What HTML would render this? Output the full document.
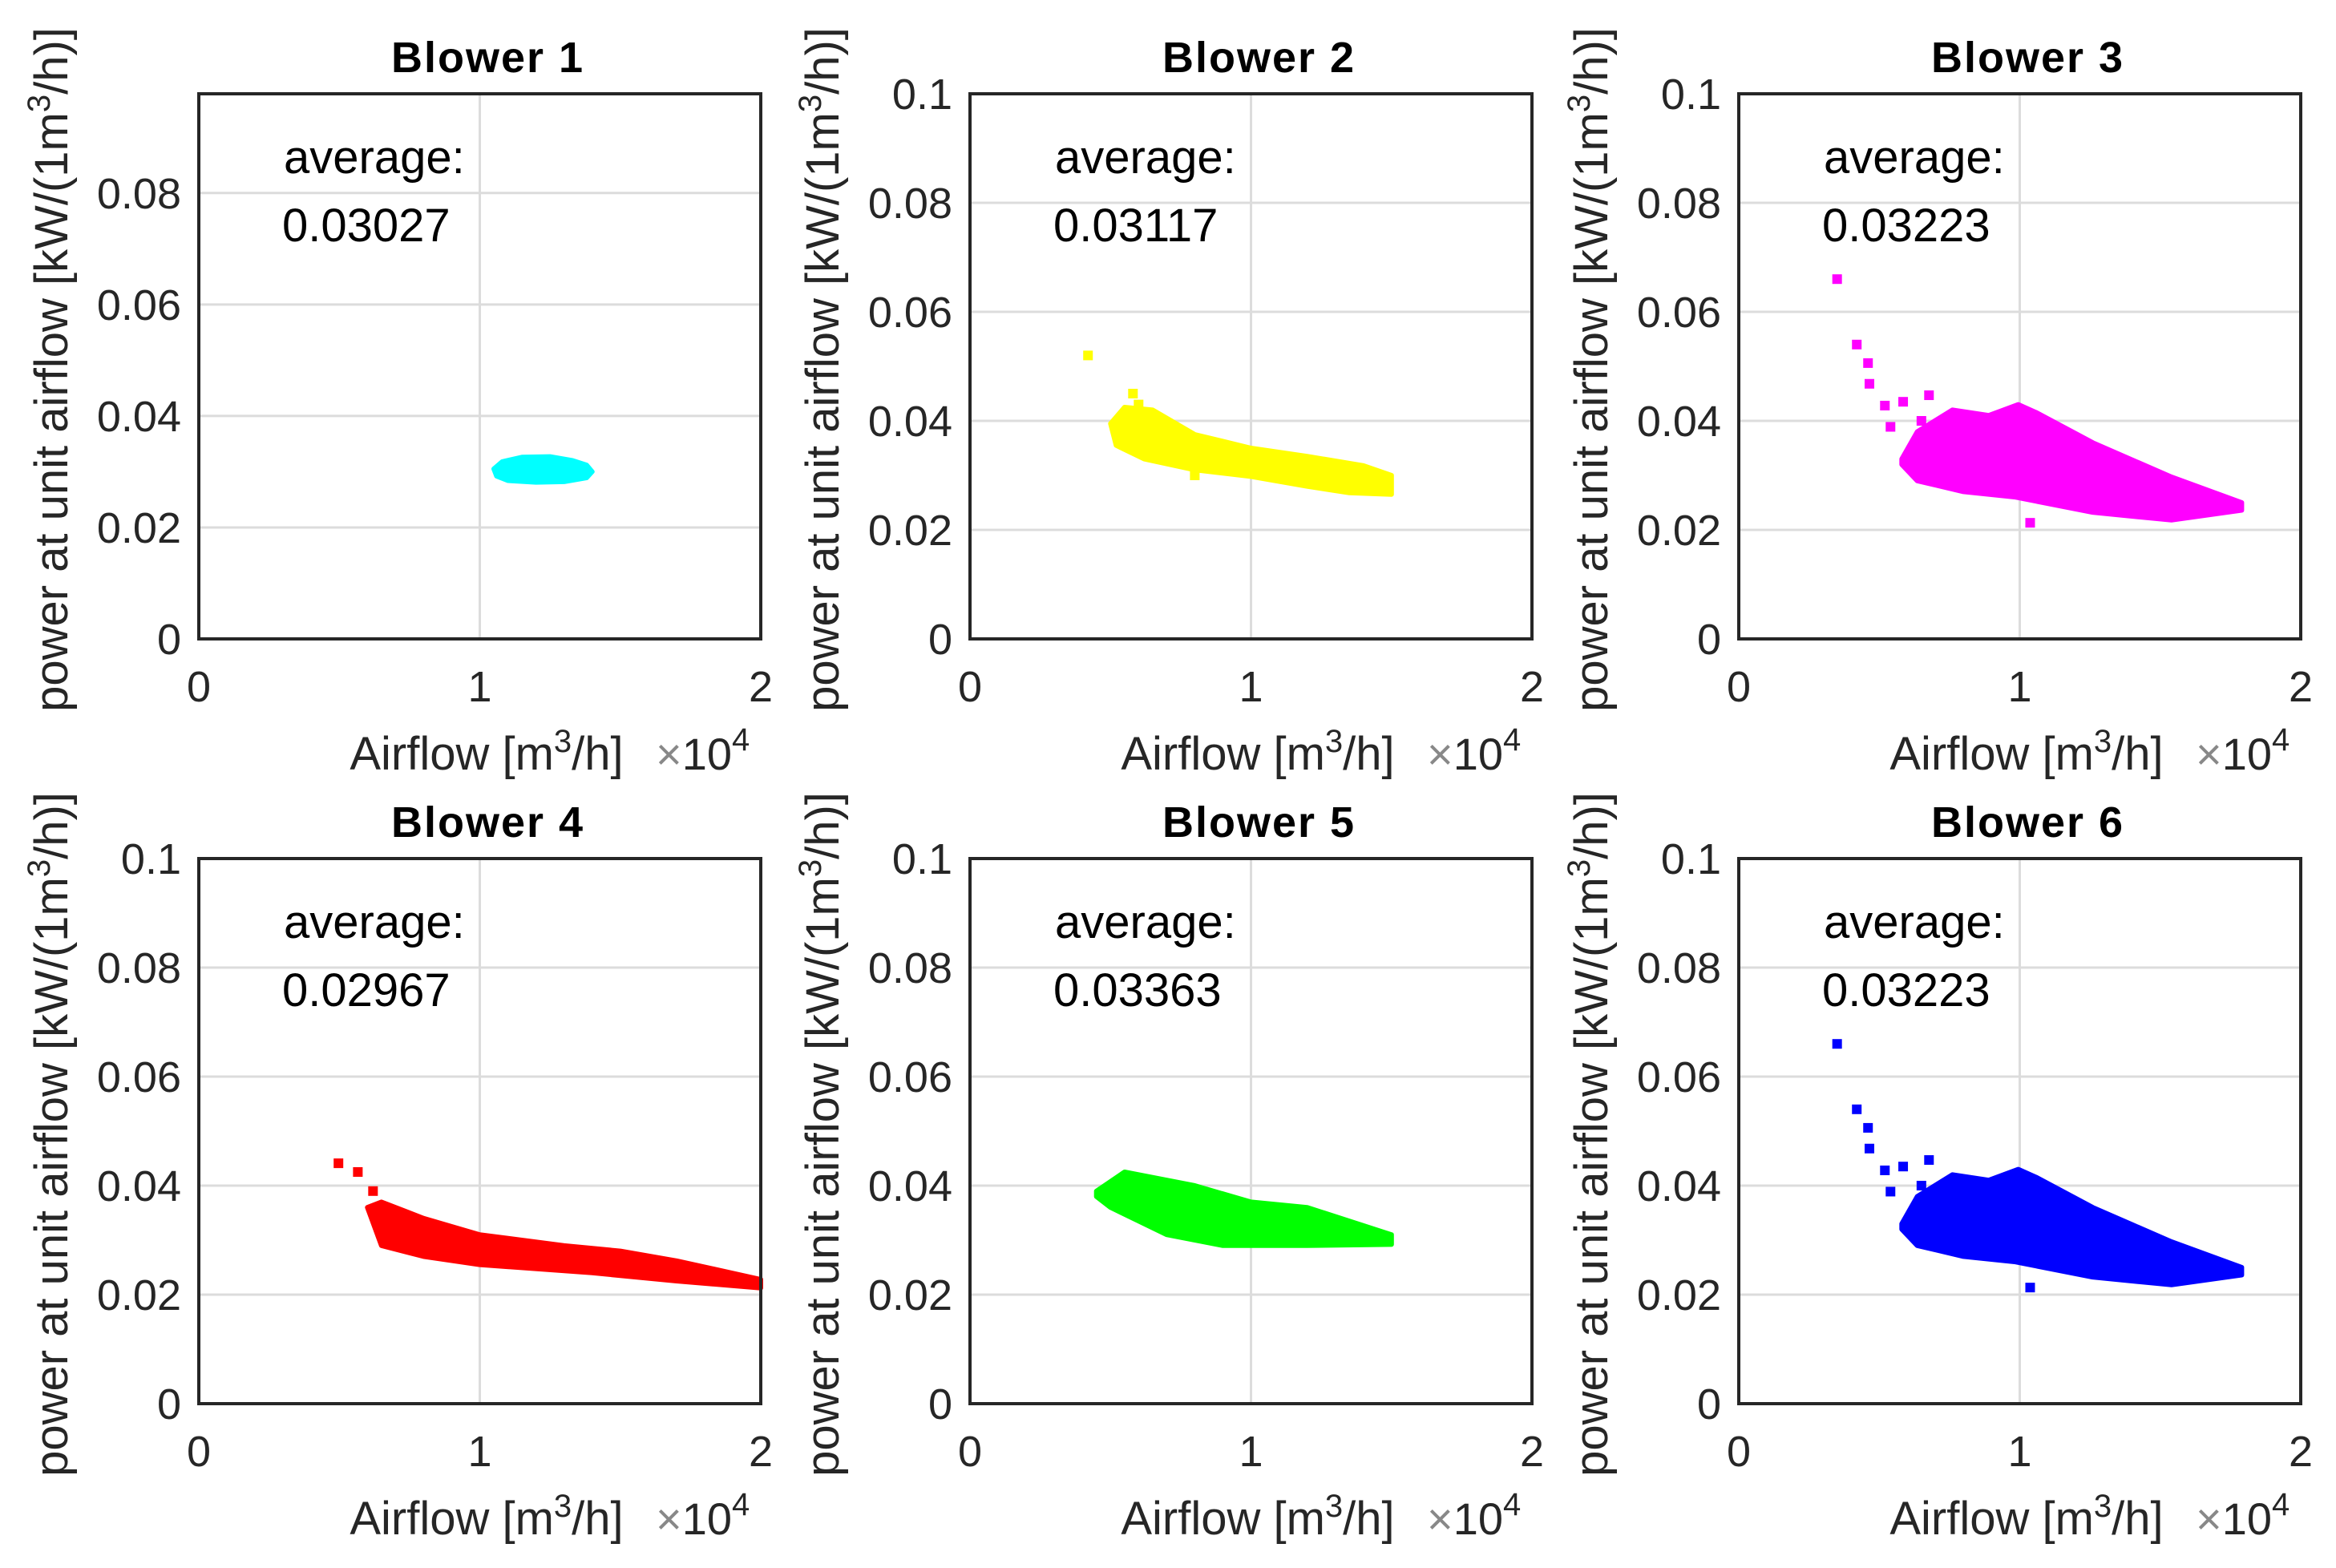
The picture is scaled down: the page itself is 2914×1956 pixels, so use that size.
<!DOCTYPE html>
<html><head><meta charset="utf-8">
<style>
html,body{margin:0;padding:0;background:#fff;}
svg{display:block;font-family:"Liberation Sans",Arial,sans-serif;}
</style></head>
<body>
<svg id="fig" width="2914" height="1956" viewBox="0 0 2914 1956" xmlns="http://www.w3.org/2000/svg"></svg>
<script>
// ---- data (airflow in 1e4 m3/h, power kW/(m3/h)) ----
const blowerTitles = ["Blower 1","Blower 2","Blower 3","Blower 4","Blower 5","Blower 6"];
const averages = ["0.03027","0.03117","0.03223","0.02967","0.03363","0.03223"];
const colors = ["#00ffff","#ffff00","#ff00ff","#ff0000","#00ff00","#0000ff"];
const xTicks = [0,1,2];
const yTicksA = [0,0.02,0.04,0.06,0.08];
const yTicksB = [0,0.02,0.04,0.06,0.08,0.1];
const yMax = [0.0978,0.1,0.1,0.1,0.1,0.1];

const b1X = [1.05,1.08,1.15,1.25,1.33,1.38,1.40,1.38,1.30,1.20,1.10,1.06];
const b1Y = [0.0305,0.0318,0.0326,0.0327,0.0320,0.0312,0.0300,0.0289,0.0282,0.0281,0.0284,0.0292];
const b2X = [0.50,0.55,0.65,0.80,1.00,1.20,1.40,1.50,1.50,1.35,1.20,1.00,0.80,0.62,0.52];
const b2Y = [0.0395,0.0425,0.0420,0.0375,0.0350,0.0335,0.0318,0.0300,0.0265,0.0268,0.0280,0.0298,0.0310,0.0330,0.0355];
const b36X = [0.58,0.635,0.76,0.89,0.995,1.06,1.26,1.54,1.79,1.79,1.54,1.26,0.985,0.80,0.635,0.58];
const b36Y = [0.0330,0.0380,0.0420,0.0410,0.0430,0.0415,0.0360,0.0297,0.0250,0.0236,0.0218,0.0232,0.0260,0.0270,0.0290,0.0320];
const b4X = [0.60,0.65,0.80,1.00,1.30,1.50,1.70,2.00,2.00,1.70,1.40,1.00,0.80,0.65];
const b4Y = [0.0360,0.0370,0.0340,0.0310,0.0290,0.0280,0.0262,0.0228,0.0212,0.0225,0.0240,0.0255,0.0270,0.0290];
const b5X = [0.45,0.55,0.80,1.00,1.20,1.50,1.50,1.20,0.90,0.70,0.50,0.45];
const b5Y = [0.0390,0.0425,0.0400,0.0370,0.0360,0.0310,0.0292,0.0290,0.0290,0.0310,0.0360,0.0380];
const outB2X = [0.42,0.58,0.60,0.80];
const outB2Y = [0.052,0.045,0.043,0.030];
const outB36X = [0.35,0.42,0.46,0.465,0.52,0.585,0.677,0.54,0.65,1.037];
const outB36Y = [0.066,0.054,0.0506,0.0468,0.0428,0.0435,0.0447,0.0389,0.040,0.0213];
const outB4X = [0.497,0.566,0.62];
const outB4Y = [0.0441,0.0425,0.039];
const outB5X = [];
const outB5Y = [];
const outB1X = [];
const outB1Y = [];

const blobX = [b1X,b2X,b36X,b4X,b5X,b36X];
const blobY = [b1Y,b2Y,b36Y,b4Y,b5Y,b36Y];
const outX = [outB1X,outB2X,outB36X,outB4X,outB5X,outB36X];
const outY = [outB1Y,outB2Y,outB36Y,outB4Y,outB5Y,outB36Y];

// ---- layout ----
const NS = "http://www.w3.org/2000/svg";
const svg = document.getElementById('fig');
const colL = [248,1210,2169];
const rowT = [117,1071];
const PW = 701, PH = 680;
const FS = 54;

function mk(tag, attrs, parent){
  const e = document.createElementNS(NS, tag);
  for (const k in attrs) e.setAttribute(k, attrs[k]);
  (parent||svg).appendChild(e);
  return e;
}

for (let i=0;i<6;i++){
  const L = colL[i%3], T = rowT[Math.floor(i/3)], B = T+PH, R = L+PW;
  const ym = yMax[i];
  const sx = v => L + v/2*PW;
  const sy = v => B - v/ym*PH;
  const g = mk('g',{});
  
  
  const yt = i===0 ? yTicksA : yTicksB;
  yt.forEach(v=>{ if(v>0){ const l=mk('line',{x1:L,x2:R,y1:sy(v),y2:sy(v),stroke:'#dcdcdc','stroke-width':3},g);
      }});
  xTicks.forEach(v=>{ if(v>0&&v<2){ const l=mk('line',{x1:sx(v),x2:sx(v),y1:T,y2:B,stroke:'#dcdcdc','stroke-width':3},g);
      }});
  const pts = blobX[i].map((x,k)=>sx(x).toFixed(1)+','+sy(blobY[i][k]).toFixed(1)).join(' ');
  const poly = mk('polygon',{points:pts,fill:colors[i],stroke:colors[i],'stroke-width':6,'stroke-linejoin':'round'},g);
  
  
  outX[i].forEach((x,k)=>{
    const r = mk('rect',{x:sx(x)-6,y:sy(outY[i][k])-6,width:12,height:12,fill:colors[i]},g);
    
    
  });
  const box = mk('rect',{x:L,y:T,width:PW,height:PH,fill:'none',stroke:'#262626','stroke-width':4},g);
  
  
  yt.forEach(v=>{
    const t = mk('text',{x:L-22,y:sy(v)+19,'text-anchor':'end','font-size':FS,fill:'#262626'},g);
    t.textContent = v===0?'0':String(v);
    
    
  });
  xTicks.forEach(v=>{
    const t = mk('text',{x:sx(v),y:B+78,'text-anchor':'middle','font-size':FS,fill:'#262626'},g);
    t.textContent = String(v);
    
    
  });
  const ti = mk('text',{x:L+PW/2+10,y:T-27,'text-anchor':'middle','font-size':54,'font-weight':'bold','letter-spacing':2,fill:'#000'},g);
  ti.textContent = blowerTitles[i];
  
  
  const a1 = mk('text',{x:L+106,y:T+99,'font-size':58,fill:'#000'},g);
  a1.textContent = 'average:';
  
  
  const a2 = mk('text',{x:L+104,y:T+184,'font-size':58,fill:'#000'},g);
  a2.textContent = averages[i];
  
  
  const xl = mk('text',{x:L+359,y:B+163,'text-anchor':'middle','font-size':58,fill:'#262626'},g);
  
  
  xl.innerHTML = 'Airflow [m<tspan dy="-22" font-size="40">3</tspan><tspan dy="22">/h]</tspan>';
  const ex = mk('text',{x:L+570,y:B+163,'font-size':56,fill:'#262626'},g);
  
  
  ex.innerHTML = '<tspan fill="#888">×</tspan>10<tspan dy="-24" font-size="40">4</tspan>';
  const cx = L-164, cy = T+PH/2+4;
  const yl = mk('text',{x:cx,y:cy,'text-anchor':'middle','font-size':58,fill:'#262626',transform:`rotate(-90 ${cx} ${cy})`},g);
  
  
  yl.innerHTML = 'power at unit airflow [kW/(1m<tspan dy="-22" font-size="40">3</tspan><tspan dy="22">/h)]</tspan>';
}
</script>
</body></html>
